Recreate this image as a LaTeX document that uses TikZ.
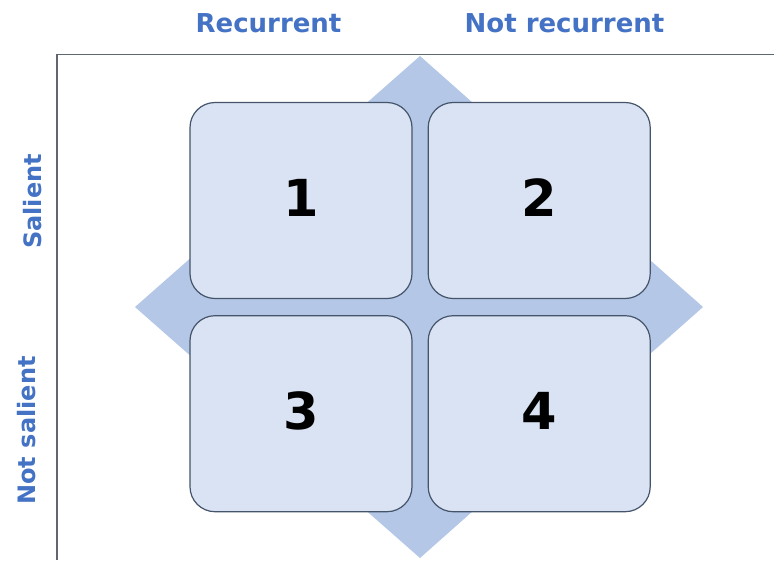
\documentclass[tikz,border=0pt]{standalone}
\usepackage{fontspec}
\setmainfont{DejaVu Sans}
\usetikzlibrary{positioning}
\definecolor{labelblue}{HTML}{4472C4}
\definecolor{cellfill}{HTML}{DAE3F3}
\definecolor{diamondfill}{HTML}{B4C7E7}
\definecolor{edgegray}{HTML}{44546A}
\definecolor{axisgray}{HTML}{5F6670}
\begin{document}
\begin{tikzpicture}[x=1pt, y=-1pt,
        cell/.style = {draw=edgegray, line width=1.2pt, fill=cellfill, rounded corners=25pt,
            minimum width=222pt, minimum height=196pt, text depth=6pt,
            font=\fontsize{51}{51}\selectfont\bfseries},
        head/.style = {text=labelblue, font=\fontsize{26}{26}\selectfont\bfseries, anchor=base},
        side/.style = {text=labelblue, font=\fontsize{24}{24}\selectfont\bfseries, anchor=base, rotate=90}]
    \useasboundingbox (0,0) rectangle (774,560);
    % axes
    \coordinate (ybot) at (57,560);
    \coordinate (corner) at (57,54.5);
    \coordinate (xend) at (774,54.5);
    \draw[axisgray, line width=1.8pt] (ybot) -- (corner) -- (xend);
    % diamond behind the cells
    \coordinate (top) at (420,56);
    \coordinate (right) at (703,307);
    \coordinate (bottom) at (420,558);
    \coordinate (left) at (135,307);
    \fill[diamondfill] (top) -- (right) -- (bottom) -- (left) -- cycle;
    % cells
    \node[cell] (1) at (301,200.5) {1};
    \node[cell] (2) [right=15pt of 1] {2};
    \node[cell] (3) [below=16pt of 1] {3};
    \node[cell] (4) [right=15pt of 3] {4};
    % labels
    \node[head] (rec) at (268.5,32) {Recurrent};
    \node[head] (notrec) at (564.5,32) {Not recurrent};
    \node[side] (sal) at (41,201.5) {Salient};
    \node[side] (notsal) at (35,430.5) {Not salient};
\end{tikzpicture}
\end{document}
